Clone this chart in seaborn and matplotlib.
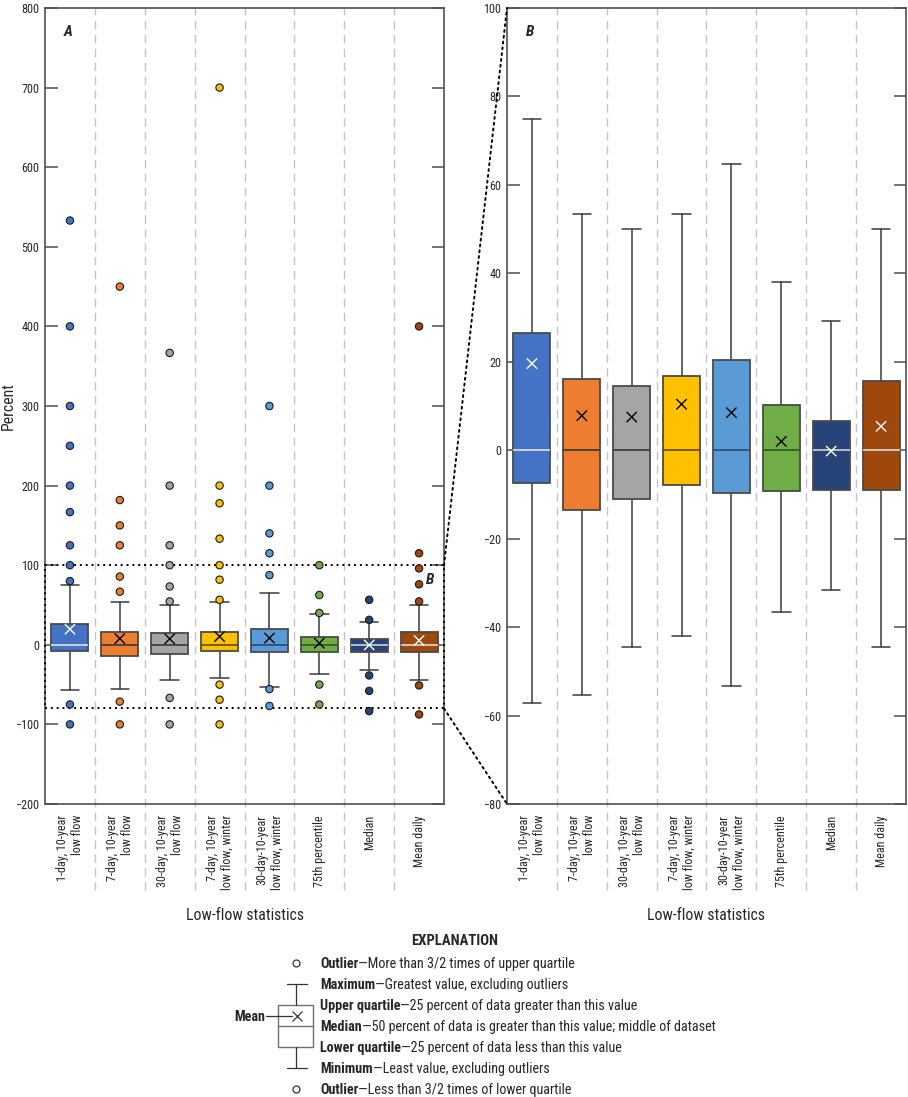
import numpy as np
import pandas as pd
import seaborn as sns
from matplotlib import pyplot as plt
from matplotlib import font_manager
from matplotlib.patches import Rectangle, ConnectionPatch
from matplotlib.lines import Line2D

# categories and colours
STATS = [
    "1-day, 10-year\nlow flow",
    "7-day, 10-year\nlow flow",
    "30-day, 10-year\nlow flow",
    "7-day, 10-year\nlow flow, winter",
    "30-day-10-year\nlow flow, winter",
    "75th percentile",
    "Median",
    "Mean daily",
]
COLORS = ["#4472C4", "#ED7D31", "#A5A5A5", "#FFC000",
          "#5B9BD5", "#70AD47", "#264478", "#9E480E"]
MEAN_COLORS = ["white", "black", "black", "black",
               "black", "black", "white", "white"]
MEDIAN_COLORS = ["#d9d9d9", "#404040", "#404040", "#6b5500",
                 "#2f4f75", "#3a5a25", "#c8c8c8", "#d0d0d0"]

# box statistics (percent)
Q1 = [-7.4, -13.6, -11.1, -7.9, -9.6, -9.3, -9.1, -8.9]
MEDIAN = [0, 0, 0, 0, 0, 0, 0, 0]
Q3 = [26.5, 16.1, 14.6, 16.7, 20.3, 10.3, 6.7, 15.6]
WHISK_LO = [-57.1, -55.3, -44.5, -42.0, -53.4, -36.6, -31.6, -44.5]
WHISK_HI = [75.0, 53.4, 50.0, 53.4, 64.8, 38.1, 29.2, 50.0]
MEANS = [19.6, 7.8, 7.5, 10.4, 8.5, 2.0, -0.2, 5.4]

OUTLIERS = [
    [533, 400, 300, 250, 200, 166.7, 125, 100, 80, -75, -100],
    [450, 181.8, 150, 125, 85.7, 66.7, -71.4, -100],
    [366.7, 200, 125, 100, 73.3, 54.5, -66.7, -100],
    [700, 200, 177.8, 133.3, 100, 81.8, 56.5, -50, -69, -100],
    [300, 200, 140, 115, 87.5, -55.6, -76.9],
    [100, 62.5, 40, -50, -75],
    [56.5, 31.3, -38.5, -57.9, -83.3],
    [400, 115, 96, 76, 54.5, -51, -87.5],
]

ZOOM_LO, ZOOM_HI = -80, 100

sns.set_style("white")
names = {f.name for f in font_manager.fontManager.ttflist}
FONT = "Liberation Sans"
for cand in ["Liberation Sans Narrow", "Roboto Condensed", "Open Sans Condensed"]:
    if cand in names:
        FONT = cand
        break
plt.rcParams["font.family"] = [FONT, "DejaVu Sans"]

W, H = 908, 1097
fig = plt.figure(figsize=(W / 100, H / 100), dpi=100)
ax1 = fig.add_axes([45 / W, 1 - 804 / H, 399 / W, 796 / H])
ax2 = fig.add_axes([507 / W, 1 - 804 / H, 399 / W, 796 / H])

GRID = "#c4c4c4"
EDGE = "#4a4a4a"


def draw_boxes(ax):
    stats = []
    for i in range(len(STATS)):
        stats.append(dict(med=MEDIAN[i], q1=Q1[i], q3=Q3[i],
                          whislo=WHISK_LO[i], whishi=WHISK_HI[i],
                          mean=MEANS[i], fliers=[]))
    bp = ax.bxp(stats, positions=np.arange(len(STATS)), widths=0.74,
                capwidths=0.37, patch_artist=True, showfliers=False,
                manage_ticks=False,
                boxprops=dict(edgecolor=EDGE, linewidth=1.3),
                whiskerprops=dict(color="#3a3a3a", linewidth=1.1),
                capprops=dict(color="#3a3a3a", linewidth=1.1),
                medianprops=dict(linewidth=1.3))
    for patch, c in zip(bp["boxes"], COLORS):
        patch.set_facecolor(c)
        patch.set_zorder(3)
    for line, c in zip(bp["medians"], MEDIAN_COLORS):
        line.set_color(c)
        line.set_zorder(3.5)
    ax.scatter(np.arange(len(STATS)), MEANS, marker="x", s=55,
               c=MEAN_COLORS, linewidths=1.0, zorder=6)


def style_axis(ax, ylim, step):
    ax.set_xlim(-0.5, len(STATS) - 0.5)
    ax.set_ylim(*ylim)
    ax.set_yticks(np.arange(ylim[0], ylim[1] + 1, step))
    ax.set_xticks(np.arange(len(STATS)))
    ax.set_xticklabels(STATS, rotation=90, va="top", ha="center",
                       multialignment="right", fontsize=8.7)
    ax.tick_params(axis="x", length=0, pad=8)
    ax.tick_params(axis="y", direction="in", length=9, width=1.1,
                   left=True, right=True, labelsize=8.7, color="#505050",
                   pad=4)
    for sp in ax.spines.values():
        sp.set_color("#505050")
        sp.set_linewidth(1.2)
    for i in range(len(STATS) - 1):
        x = (i + 1) / len(STATS)
        ax.plot([x, x], [-0.108, 1], transform=ax.transAxes, color=GRID,
                lw=1, ls=(0, (6, 4)), clip_on=False, zorder=1)
    ax.set_xlabel("Low-flow statistics", fontsize=11.3)
    ax.xaxis.set_label_coords(0.5, -0.131)
    ax.set_ylabel("")


# panel A: all data with outliers
out_df = pd.DataFrame(
    [(STATS[i], v) for i in range(len(STATS)) for v in OUTLIERS[i]],
    columns=["stat", "value"])
sns.stripplot(data=out_df, x="stat", y="value", hue="stat", order=STATS,
              hue_order=STATS, palette=COLORS, jitter=False, size=5.3,
              linewidth=0.8, edgecolor="#1a1a1a", legend=False,
              zorder=7, ax=ax1)
draw_boxes(ax1)
style_axis(ax1, (-200, 800), 100)
ax1.set_ylabel("Percent", fontsize=11.3)
ax1.yaxis.set_label_coords(-0.073, 0.5)

ax1.add_patch(Rectangle((0, ZOOM_LO), 1, ZOOM_HI - ZOOM_LO,
                        transform=ax1.get_yaxis_transform(),
                        fill=False, ec="black", lw=1.4, ls=(0, (1, 2)),
                        zorder=4, clip_on=False))
ax1.text(0.058, 0.97, "A", transform=ax1.transAxes, fontsize=11,
         fontweight="bold", fontstyle="italic", ha="center", va="center")
ax1.text(0.965, 82, "B", transform=ax1.get_yaxis_transform(), fontsize=11,
         fontweight="bold", fontstyle="italic", ha="center", va="center")

# panel B: zoom on -80 to 100
draw_boxes(ax2)
style_axis(ax2, (ZOOM_LO, ZOOM_HI), 20)
ax2.text(0.058, 0.97, "B", transform=ax2.transAxes, fontsize=11,
         fontweight="bold", fontstyle="italic", ha="center", va="center")

for yv in (ZOOM_HI, ZOOM_LO):
    con = ConnectionPatch(xyA=(1, yv), coordsA=ax1.get_yaxis_transform(),
                          xyB=(0, yv), coordsB=ax2.get_yaxis_transform(),
                          color="black", lw=1.4, ls=(0, (1, 2)))
    fig.add_artist(con)


# explanation block (figure pixel coordinates)
def fx(x):
    return x / W


def fy(y):
    return 1 - y / H


fig.text(fx(455), fy(941), "EXPLANATION", fontsize=10.5, fontweight="bold",
         ha="center", va="center")

ROWS = [
    ("Outlier", "\u2014More than 3/2 times of upper quartile", 963),
    ("Maximum", "\u2014Greatest value, excluding outliers", 984),
    ("Upper quartile", "\u201425 percent of data greater than this value", 1005),
    ("Median", "\u201450 percent of data is greater than this value; middle of dataset", 1026),
    ("Lower quartile", "\u201425 percent of data less than this value", 1047),
    ("Minimum", "\u2014Least value, excluding outliers", 1068),
    ("Outlier", "\u2014Less than 3/2 times of lower quartile", 1089),
]
TXT = 10.2
renderer = fig.canvas.get_renderer()
for bold, rest, y in ROWS:
    t = fig.text(fx(320), fy(y + 5), bold, fontsize=TXT, fontweight="bold",
                 va="baseline", ha="left")
    bb = t.get_window_extent(renderer)
    fig.text(bb.x1 / W, fy(y + 5), rest, fontsize=TXT, va="baseline",
             ha="left")

LG = "#707070"
DK = "#333333"
for y in (963, 1089):
    fig.add_artist(Line2D([fx(296)], [fy(y)], marker="o", ms=5,
                          mfc="white", mec=DK, mew=0.9, ls="none"))
for y in (984, 1068):
    fig.add_artist(Line2D([fx(287), fx(307)], [fy(y), fy(y)], color=DK,
                          lw=0.9))
fig.add_artist(Line2D([fx(296)] * 2, [fy(984), fy(1005)], color=DK, lw=0.9))
fig.add_artist(Line2D([fx(296)] * 2, [fy(1047), fy(1068)], color=DK, lw=0.9))
fig.add_artist(Rectangle((fx(278), fy(1047)), fx(35), 42 / H,
                         fill=False, ec=LG, lw=1.0,
                         transform=fig.transFigure))
fig.add_artist(Line2D([fx(278), fx(313)], [fy(1026), fy(1026)], color=LG, lw=1.0))
fig.add_artist(Line2D([fx(266), fx(292)], [fy(1016), fy(1016)], color=DK, lw=0.9))
fig.add_artist(Line2D([fx(297)], [fy(1016)], marker="x", ms=7, mec=DK,
                      mew=0.9, ls="none"))
fig.text(fx(265), fy(1016 + 5), "Mean", fontsize=TXT, fontweight="bold",
         ha="right", va="baseline")

fig.savefig("out.png", dpi=100)
